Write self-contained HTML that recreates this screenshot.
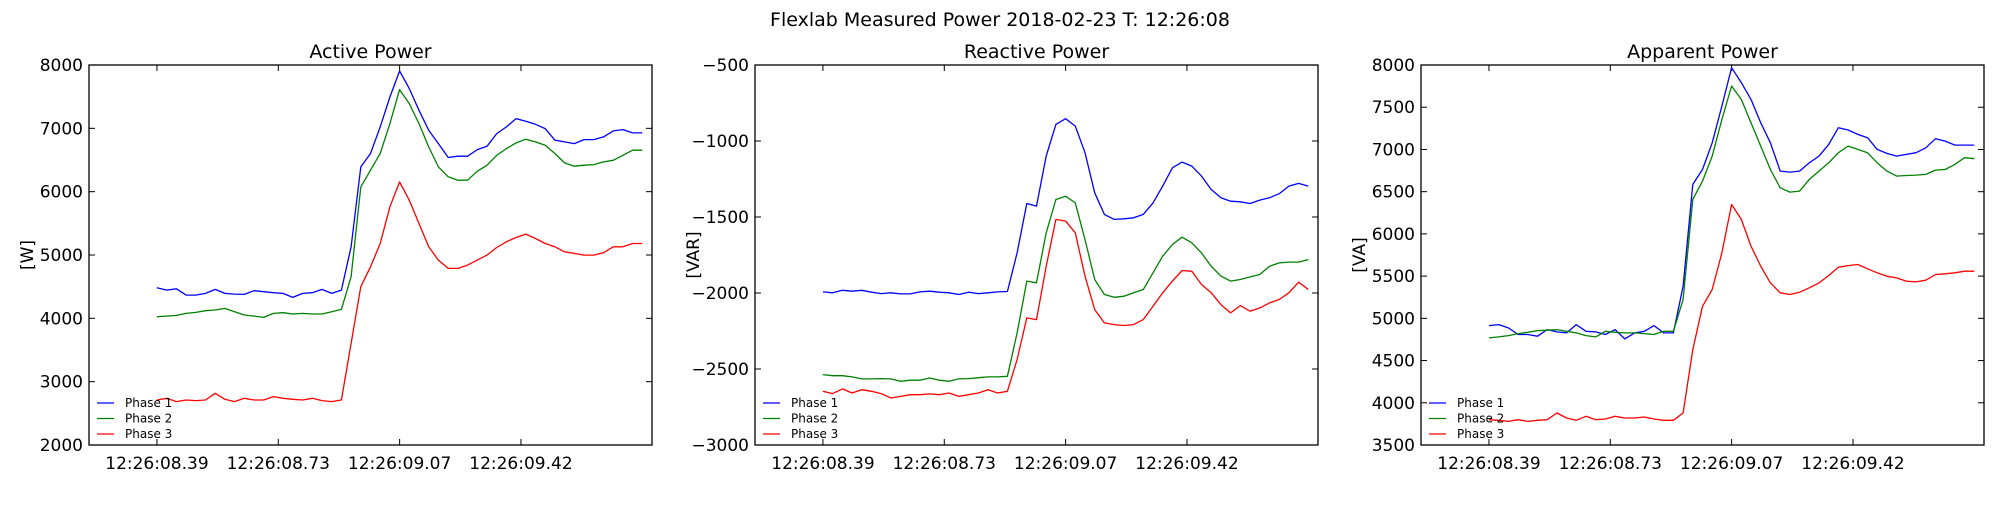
<!DOCTYPE html>
<html><head><meta charset="utf-8"><style>
body{margin:0;background:#fff;}
svg text{font-family:"DejaVu Sans","Liberation Sans",sans-serif;}
</style></head><body>
<svg id="fig" width="2000" height="500" xmlns="http://www.w3.org/2000/svg">
<rect width="2000" height="500" fill="#fff"/>
<text x="1000" y="26" font-size="19" text-anchor="middle">Flexlab Measured Power 2018-02-23 T: 12:26:08</text>
</svg>
<script>
const xTickLabels = ["12:26:08.39","12:26:08.73","12:26:09.07","12:26:09.42"];
const seriesNames = ["Phase 1","Phase 2","Phase 3"];
const activeP1 = [4483,4446,4467,4367,4367,4394,4457,4394,4383,4378,4436,4420,4404,4394,4331,4394,4404,4457,4394,4446,5130,6391,6602,7022,7495,7906,7627,7285,6970,6759,6539,6560,6560,6665,6717,6917,7022,7154,7112,7064,6996,6812,6786,6759,6822,6822,6864,6959,6980,6928,6928];
const activeP2 = [4026,4036,4047,4078,4094,4120,4131,4157,4104,4052,4036,4015,4078,4089,4068,4078,4068,4068,4104,4141,4657,6076,6339,6602,7075,7611,7390,7075,6707,6391,6234,6181,6181,6323,6418,6575,6680,6770,6828,6786,6733,6602,6454,6402,6418,6428,6470,6496,6575,6654,6654];
const activeP3 = [2711,2738,2685,2711,2701,2711,2817,2722,2685,2738,2711,2711,2764,2738,2722,2711,2738,2701,2685,2711,3605,4499,4814,5182,5761,6155,5866,5498,5130,4919,4788,4788,4841,4919,4998,5119,5209,5277,5330,5261,5182,5130,5051,5025,4998,4998,5035,5130,5130,5182,5182];
const reactiveP1 = [-1993,-1999,-1982,-1988,-1982,-1995,-2004,-1999,-2006,-2006,-1993,-1988,-1995,-1999,-2010,-1995,-2004,-1999,-1993,-1990,-1736,-1411,-1428,-1099,-891,-853,-902,-1077,-1341,-1483,-1516,-1512,-1505,-1483,-1407,-1297,-1176,-1139,-1165,-1231,-1319,-1374,-1396,-1400,-1411,-1389,-1374,-1347,-1297,-1279,-1297];
const reactiveP2 = [-2537,-2544,-2544,-2552,-2565,-2565,-2563,-2565,-2581,-2574,-2574,-2559,-2574,-2581,-2565,-2563,-2557,-2552,-2552,-2548,-2263,-1922,-1933,-1604,-1385,-1363,-1407,-1648,-1911,-2010,-2028,-2021,-1999,-1977,-1867,-1758,-1681,-1633,-1670,-1736,-1824,-1889,-1922,-1911,-1894,-1878,-1824,-1802,-1797,-1797,-1780];
const reactiveP3 = [-2647,-2662,-2631,-2658,-2636,-2647,-2662,-2691,-2680,-2669,-2669,-2664,-2669,-2658,-2680,-2669,-2658,-2636,-2658,-2647,-2438,-2164,-2175,-1824,-1516,-1527,-1604,-1889,-2109,-2197,-2208,-2214,-2208,-2175,-2087,-1999,-1922,-1852,-1857,-1944,-1999,-2076,-2131,-2083,-2120,-2098,-2065,-2043,-1999,-1929,-1977];
const apparentP1 = [4914,4926,4887,4808,4808,4788,4867,4839,4827,4926,4847,4839,4808,4867,4756,4827,4847,4914,4827,4827,5380,6586,6763,7079,7514,7968,7791,7593,7317,7079,6744,6732,6744,6842,6921,7060,7257,7230,7178,7139,7000,6953,6921,6941,6961,7020,7127,7099,7052,7052,7052];
const apparentP2 = [4768,4780,4796,4819,4835,4855,4859,4867,4847,4827,4796,4780,4847,4835,4827,4827,4819,4808,4847,4847,5222,6408,6625,6921,7356,7751,7593,7317,7040,6763,6546,6495,6507,6645,6744,6842,6961,7040,7000,6961,6842,6744,6684,6692,6696,6704,6755,6763,6823,6902,6890];
const apparentP3 = [3800,3792,3780,3800,3780,3792,3800,3879,3820,3792,3840,3800,3808,3840,3820,3820,3832,3808,3792,3792,3879,4630,5143,5341,5776,6348,6171,5855,5618,5420,5302,5282,5310,5361,5420,5507,5606,5625,5637,5586,5539,5499,5479,5440,5432,5452,5519,5527,5539,5558,5558];
const activeTicks = [2000,3000,4000,5000,6000,7000,8000];
const reactiveTicks = [-3000,-2500,-2000,-1500,-1000,-500];
const apparentTicks = [3500,4000,4500,5000,5500,6000,6500,7000,7500,8000];

const NS="http://www.w3.org/2000/svg";
const svg=document.getElementById('fig');
const colors=["#0000ff","#008000","#ff0000"];
function mk(tag,attrs,parent){const e=document.createElementNS(NS,tag);for(const k in attrs)e.setAttribute(k,attrs[k]);(parent||svg).appendChild(e);return e;}
const TOP=65,BOT=445,W=563,UMIN=-0.56,UMAX=4.08;
function fmt(v){return v<0?"\u2212"+Math.abs(v):String(v);}
function panel(key,left,title,ylabel,ticks,series){
  const g=mk('g',{});
  
  
  const ymin=ticks[0],ymax=ticks[ticks.length-1];
  const xs=u=>left+(u-UMIN)/(UMAX-UMIN)*W;
  const ys=v=>BOT-(v-ymin)/(ymax-ymin)*(BOT-TOP);
  const t=mk('text',{x:left+W/2,y:58,'font-size':19,'text-anchor':'middle'},g);t.textContent=title;
  
  
  const yl=mk('text',{x:0,y:0,'font-size':17,'text-anchor':'middle',transform:`translate(${left-56},${(TOP+BOT)/2}) rotate(-90)`},g);yl.textContent=ylabel;
  
  
  ticks.forEach(v=>{
    const y=ys(v);
    mk('line',{x1:left,x2:left+6,y1:y,y2:y,stroke:'#000','stroke-width':1},g);
    mk('line',{x1:left+W,x2:left+W-6,y1:y,y2:y,stroke:'#000','stroke-width':1},g);
    const tl=mk('text',{x:left-6,y:y+6,'font-size':17,'text-anchor':'end'},g);tl.textContent=fmt(v);
    
    
  });
  xTickLabels.forEach((s,i)=>{
    const x=xs(i);
    mk('line',{x1:x,x2:x,y1:BOT,y2:BOT-6,stroke:'#000','stroke-width':1},g);
    mk('line',{x1:x,x2:x,y1:TOP,y2:TOP+6,stroke:'#000','stroke-width':1},g);
    const tl=mk('text',{x:x,y:469,'font-size':17,'text-anchor':'middle'},g);tl.textContent=s;
    
    
  });
  series.forEach((arr,si)=>{
    const n=arr.length;
    const pts=arr.map((v,i)=>xs(4*i/(n-1)).toFixed(1)+','+ys(v).toFixed(1)).join(' ');
    const pl=mk('polyline',{points:pts,fill:'none',stroke:colors[si],'stroke-width':1.3,'stroke-linejoin':'round'},g);
    
    
  });
  const fr=mk('rect',{x:left,y:TOP,width:W,height:BOT-TOP,fill:'none',stroke:'#000','stroke-width':1.3},g);
  
  
  const lg=mk('g',{},g);
  
  
  seriesNames.forEach((s,i)=>{
    const y=403+i*15.5;
    mk('line',{x1:left+8,x2:left+25,y1:y,y2:y,stroke:colors[i],'stroke-width':1.3},lg);
    const lt=mk('text',{x:left+36,y:y+4,'font-size':12},lg);lt.textContent=s;
    
    
  });
}
panel('active',89,'Active Power','[W]',activeTicks,[activeP1,activeP2,activeP3]);
panel('reactive',755,'Reactive Power','[VAR]',reactiveTicks,[reactiveP1,reactiveP2,reactiveP3]);
panel('apparent',1421,'Apparent Power','[VA]',apparentTicks,[apparentP1,apparentP2,apparentP3]);
</script>
</body></html>
